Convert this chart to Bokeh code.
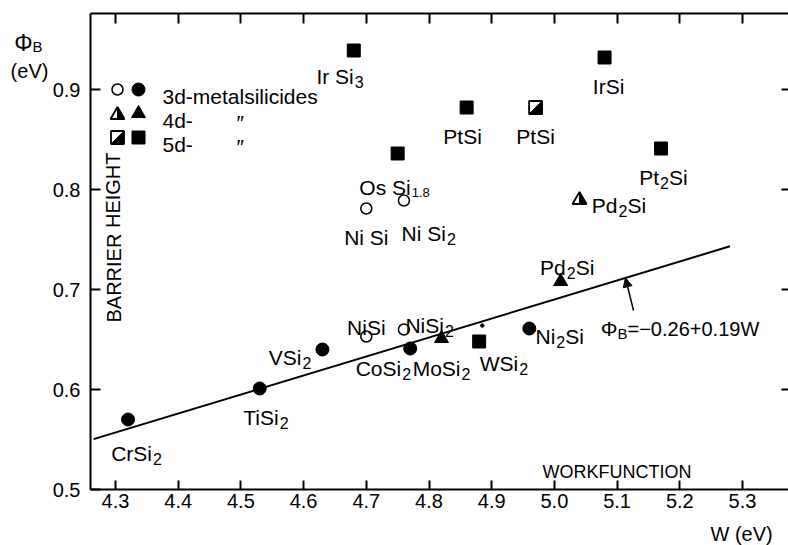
import re
from bokeh.plotting import figure
from bokeh.models import Range1d, LinearAxis, FixedTicker, ColumnDataSource, Arrow, NormalHead
from bokeh.embed import file_html
from bokeh.resources import INLINE
from bokeh.core.properties import value

FONT = "Liberation Sans"

# ---------------- data ----------------
d3_filled_names = ["CrSi2", "TiSi2", "VSi2", "CoSi2", "Ni2Si"]
d3_filled_w = [4.32, 4.53, 4.63, 4.77, 4.96]
d3_filled_phi = [0.570, 0.601, 0.640, 0.641, 0.661]

d3_open_names = ["NiSi", "NiSi2", "Ni Si", "Ni Si2"]
d3_open_w = [4.70, 4.76, 4.70, 4.76]
d3_open_phi = [0.653, 0.660, 0.781, 0.789]

d4_filled_names = ["MoSi2", "Pd2Si"]
d4_filled_w = [4.82, 5.01]
d4_filled_phi = [0.651, 0.708]

d4_half_names = ["Pd2Si"]
d4_half_w = [5.04]
d4_half_phi = [0.791]

d5_filled_names = ["Ir Si3", "Os Si1.8", "PtSi", "IrSi", "Pt2Si", "WSi2"]
d5_filled_w = [4.68, 4.75, 4.86, 5.08, 5.17, 4.88]
d5_filled_phi = [0.939, 0.836, 0.882, 0.932, 0.841, 0.648]

d5_half_names = ["PtSi"]
d5_half_w = [4.97]
d5_half_phi = [0.882]

stray_w = [4.885]
stray_phi = [0.664]

fit_intercept = -0.26
fit_slope = 0.19
fit_w = [4.265, 5.28]

x_ticks = [4.3, 4.4, 4.5, 4.6, 4.7, 4.8, 4.9, 5.0, 5.1, 5.2, 5.3]
x_tick_labels = ["4.3", "4.4", "4.5", "4.6", "4.7", "4.8", "4.9", "5.0", "5.1", "5.2", "5.3"]
y_ticks = [0.5, 0.6, 0.7, 0.8, 0.9]
y_tick_labels = ["0.5", "0.6", "0.7", "0.8", "0.9"]

# ---------------- layout (page px <-> data) ----------------
SX, SY = 627.0, 1000.0      # px per unit


def ax(px):
    return 4.3 + (px - 115) / SX


def ay(py):
    return 0.7 + (289 - py) / SY


X0, X1 = ax(90), ax(788)
Y0, Y1 = 0.5, ay(13)

p = figure(width=788, height=545, x_range=Range1d(ax(0), ax(788)), y_range=Range1d(ay(545), ay(0)),
           output_backend="svg", toolbar_location=None, min_border=0,
           x_axis_location=None, y_axis_location=None)
p.xgrid.visible = False
p.ygrid.visible = False
p.outline_line_color = None
p.background_fill_color = "white"
p.border_fill_color = "white"


def make_axis(ticks, labs, loc, bounds, tin, stand, line=True, show_labels=True):
    a = LinearAxis(ticker=FixedTicker(ticks=ticks), fixed_location=loc, bounds=bounds,
                   major_tick_in=tin, major_tick_out=0, minor_tick_line_color=None,
                   axis_line_width=2, major_tick_line_width=2,
                   axis_line_color="black" if line else None,
                   major_label_text_font=FONT, major_label_text_font_size="20px",
                   major_label_text_color="black", major_label_standoff=stand)
    if show_labels:
        a.major_label_overrides = {t: l for t, l in zip(ticks, labs)}
    else:
        a.major_label_overrides = {t: "" for t in ticks}
        a.major_label_text_font_size = "1px"
    return a


p.add_layout(make_axis(x_ticks, x_tick_labels, Y0, (X0, X1), 9, 4), "below")
p.add_layout(make_axis(y_ticks, y_tick_labels, X0, (Y0, Y1), 10, 10), "left")
p.add_layout(make_axis(x_ticks, x_tick_labels, Y1, (X0, X1), 10, 0, show_labels=False), "above")
p.add_layout(make_axis(y_ticks[1:], y_tick_labels[1:], X1, (Y0, Y1), 7, 0, line=False, show_labels=False), "right")

# fit line
p.line(fit_w, [fit_intercept + fit_slope * w for w in fit_w], line_color="black", line_width=2)

# markers
CS, SQ = 13, 13
p.scatter(d3_filled_w, d3_filled_phi, marker="circle", size=CS, fill_color="black", line_color="black")
p.scatter(d3_open_w, d3_open_phi, marker="circle", size=11, fill_color="white", line_color="black", line_width=1.5)
p.scatter(d4_filled_w, d4_filled_phi, marker="triangle", size=14, fill_color="black", line_color="black")
p.scatter(d5_filled_w, d5_filled_phi, marker="square", size=SQ, fill_color="black", line_color="black")
p.scatter(stray_w, stray_phi, marker="circle", size=3.5, fill_color="black", line_color="black")


def half_square(ws, phis):
    h = 6.5
    fx, fy, hx, hy = [], [], [], []
    for w, f in zip(ws, phis):
        dx, dy = h / SX, h / SY
        fx.append([w - dx, w + dx, w + dx, w - dx]); fy.append([f - dy, f - dy, f + dy, f + dy])
        hx.append([w - dx, w + dx, w + dx]); hy.append([f - dy, f - dy, f + dy])
    p.patches(fx, fy, fill_color="white", line_color="black", line_width=1.8)
    p.patches(hx, hy, fill_color="black", line_color="black", line_width=1)


def half_triangle(ws, phis):
    hw, up, dn = 7, 6.5, 5.5
    fx, fy, hx, hy = [], [], [], []
    for w, f in zip(ws, phis):
        fx.append([w, w + hw / SX, w - hw / SX]); fy.append([f + up / SY, f - dn / SY, f - dn / SY])
        hx.append([w, w + hw / SX, w]); hy.append([f + up / SY, f - dn / SY, f - dn / SY])
    p.patches(fx, fy, fill_color="white", line_color="black", line_width=1.8)
    p.patches(hx, hy, fill_color="black", line_color="black", line_width=1)


half_square(d5_half_w, d5_half_phi)
half_triangle(d4_half_w, d4_half_phi)

# ---------------- point labels ----------------
# (junction / centre x offset, baseline y offset) in px for each labelled point
offs = ([(24, 34), (19, 29), (-21, 8), (-9, 20), (26, 8)] +
        [(0, -9), (40, -4), (0, 29), (42, 33)] +
        [(19, 30), (5, -14)] +
        [(38, 7)] +
        [(0, 26), (13, 34), (-4, 29), (4, 29), (-2, 29), (39, 22)] +
        [(0, 29)])
all_names = d3_filled_names + d3_open_names + d4_filled_names + d4_half_names + d5_filled_names + d5_half_names
all_w = d3_filled_w + d3_open_w + d4_filled_w + d4_half_w + d5_filled_w + d5_half_w
all_phi = d3_filled_phi + d3_open_phi + d4_filled_phi + d4_half_phi + d5_filled_phi + d5_half_phi

plain = dict(x=[], y=[], t=[], xo=[], yo=[])
mains = dict(x=[], y=[], t=[], xo=[], yo=[])
subs = dict(x=[], y=[], t=[], xo=[], yo=[], fs=[])
tails = dict(x=[], y=[], t=[], xo=[], yo=[])
for n, w, f, (dx, dy) in zip(all_names, all_w, all_phi, offs):
    m = re.match(r"^(\D*?)(\d[\d.]*)?(\D*)$", n)
    main, sub, tail = m.group(1), m.group(2), m.group(3)
    if not sub:
        for k, v in zip(("x", "y", "t", "xo", "yo"), (w, f, main + tail, dx, dy)):
            plain[k].append(v)
        continue
    for k, v in zip(("x", "y", "t", "xo", "yo"), (w, f, main, dx, dy)):
        mains[k].append(v)
    for k, v in zip(("x", "y", "t", "xo", "yo", "fs"), (w, f, sub, dx + 1, dy + 5, "16px" if len(sub) == 1 else "13px")):
        subs[k].append(v)
    if tail:
        for k, v in zip(("x", "y", "t", "xo", "yo"), (w, f, tail, dx + 10, dy)):
            tails[k].append(v)

common = dict(text_font=value(FONT), text_color="black", text_baseline="alphabetic")
p.text("x", "y", text="t", x_offset="xo", y_offset="yo", source=ColumnDataSource(plain),
       text_align="center", text_font_size="21px", **common)
p.text("x", "y", text="t", x_offset="xo", y_offset="yo", source=ColumnDataSource(mains),
       text_align="right", text_font_size="21px", **common)
p.text("x", "y", text="t", x_offset="xo", y_offset="yo", source=ColumnDataSource(subs),
       text_align="left", text_font_size="fs", **common)
p.text("x", "y", text="t", x_offset="xo", y_offset="yo", source=ColumnDataSource(tails),
       text_align="left", text_font_size="21px", **common)

# ---------------- legend ----------------
lx_open, lx_fill = ax(117), ax(138)
ly = [ay(89), ay(113), ay(137)]
p.scatter([lx_open], [ly[0]], marker="circle", size=11, fill_color="white", line_color="black", line_width=1.5)
p.scatter([lx_fill], [ly[0]], marker="circle", size=CS, fill_color="black", line_color="black")
half_triangle([lx_open], [ly[1]])
p.scatter([lx_fill], [ly[1]], marker="triangle", size=14, fill_color="black", line_color="black")
half_square([lx_open], [ly[2]])
p.scatter([lx_fill], [ly[2]], marker="square", size=SQ, fill_color="black", line_color="black")


def lab(txt, px, py, size="21px", align="left", angle=0.0, baseline="alphabetic"):
    p.text([ax(px)], [ay(py)], text=[txt], text_font=value(FONT), text_font_size=size,
           text_align=align, text_baseline=baseline, angle=angle, text_color="black")


lab("3d-metalsilicides", 162, 96)
lab("4d-", 162, 120)
lab("5d-", 162, 144)
lab("\u2033", 236, 122)
lab("\u2033", 236, 146)

# axis titles and annotations
lab("\u03a6", 32, 42, size="23px", align="right")
lab("B", 32, 46, size="15px")
lab("(eV)", 29, 70, size="20px", align="center")
lab("W (eV)", 710, 533, size="20px")
lab("WORKFUNCTION", 542, 471, size="18px")
lab("BARRIER HEIGHT", 113, 237, size="20px", align="center", angle=1.5708, baseline="middle")

lab("\u03a6", 617, 328, size="21px", align="right")
lab("B", 617, 333, size="15px")
lab("=\u22120.26+0.19W", 627, 328, size="20px")

w_arrow = ax(625)
p.add_layout(Arrow(end=NormalHead(size=9, fill_color="black", line_color="black"),
                   x_start=ax(633), y_start=ay(310), x_end=w_arrow,
                   y_end=fit_intercept + fit_slope * w_arrow, line_width=1.5, line_color="black"))

open("out.html", "w").write(file_html(p, INLINE))
